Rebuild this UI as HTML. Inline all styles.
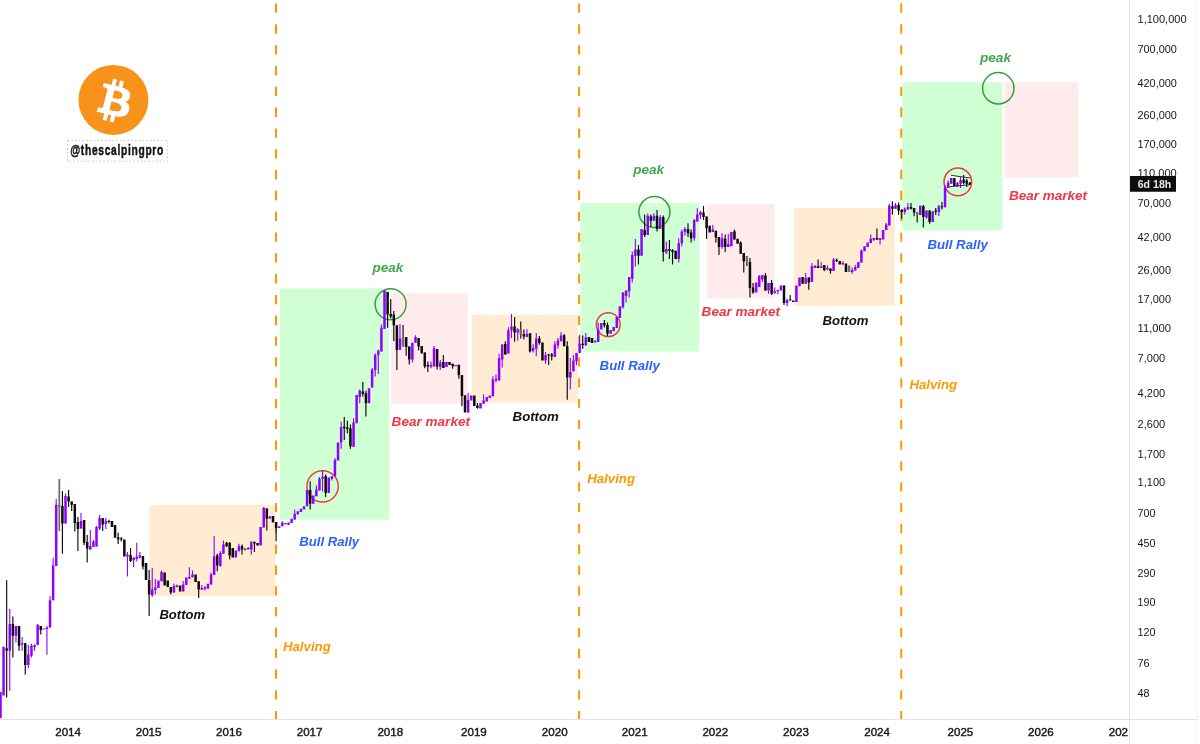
<!DOCTYPE html>
<html><head><meta charset="utf-8"><title>BTC cycles</title>
<style>
html,body{margin:0;padding:0;background:#fff;}
body{width:1200px;height:744px;overflow:hidden;position:relative;font-family:"Liberation Sans",sans-serif;}
svg{position:absolute;left:0;top:0;display:block;will-change:transform;}
text{font-family:"Liberation Sans",sans-serif;}
.lb{font-weight:bold;font-style:italic;font-size:13px;}
.ax{font-size:11.5px;fill:#131722;}
.xa{font-size:11.2px;fill:#131722;stroke:#131722;stroke-width:0.4px;}
</style></head><body>
<svg width="1200" height="744" viewBox="0 0 1200 744">
<defs><clipPath id="plot"><rect x="0" y="0" width="1129" height="719.2"/></clipPath><clipPath id="xclip"><rect x="0" y="720" width="1128" height="24"/></clipPath></defs>
<g clip-path="url(#plot)">
<rect x="149.4" y="505" width="125.8" height="91.2" fill="#FFECD2"/>
<rect x="279.9" y="288.4" width="109.2" height="231.3" fill="#D0FFD4"/>
<rect x="391.0" y="292.9" width="76.75" height="110.7" fill="#FFEBEB"/>
<rect x="471.7" y="315.0" width="106" height="87.5" fill="#FFECD2"/>
<rect x="580.4" y="203" width="118.6" height="148.5" fill="#D0FFD4"/>
<rect x="706.9" y="203.9" width="67.85" height="94.6" fill="#FFEBEB"/>
<rect x="793.9" y="208" width="100.85" height="97.9" fill="#FFECD2"/>
<rect x="902.3" y="82.1" width="100.2" height="148.2" fill="#D0FFD4"/>
<rect x="1004.4" y="82.1" width="73.7" height="95.4" fill="#FFEBEB"/>
<line x1="276.0" y1="3.55" x2="276.0" y2="720" stroke="#FF9800" stroke-width="2" stroke-dasharray="9.3 11.51"/>
<line x1="579.1" y1="3.55" x2="579.1" y2="720" stroke="#FF9800" stroke-width="2" stroke-dasharray="9.3 11.51"/>
<line x1="901.25" y1="3.55" x2="901.25" y2="720" stroke="#FF9800" stroke-width="2" stroke-dasharray="9.3 11.51"/>
<path d="M951 175.3L970 178L970 184.7L949.4 186.7Z" fill="#fff" fill-opacity="0.75"/>
<circle cx="322.6" cy="486.35" r="15.7" fill="none" stroke="#F23645" stroke-width="1.5"/>
<circle cx="390.6" cy="304.3" r="15.5" fill="none" stroke="#34A03C" stroke-width="1.5"/>
<circle cx="608.25" cy="324.7" r="11.9" fill="none" stroke="#F23645" stroke-width="1.5"/>
<circle cx="654.4" cy="212.1" r="15.5" fill="none" stroke="#34A03C" stroke-width="1.5"/>
<circle cx="957.8" cy="181.9" r="13.8" fill="none" stroke="#F23645" stroke-width="1.5"/>
<circle cx="998.3" cy="88.3" r="15.7" fill="none" stroke="#34A03C" stroke-width="1.5"/>
<path d="M9.77 609V690.75M15.96 626V642.6M22.16 637V650.7M28.35 645V668M31.45 644V657.6M34.55 644.5V650.7M37.64 624V645M46.93 626V654.7M50.03 596V627.6M53.13 557.75V600.25M56.22 499V566M65.51 493.5V523.5M81 513V528.5M90.29 530V549.6M93.39 540V547M96.49 526V546.5M99.58 515V530M105.78 518V529M127.45 552V576.5M133.65 557V567M136.75 542.75V561.5M139.84 552V558.4M152.23 568V597M155.33 578.75V594.4M161.52 570.6V581.25M173.91 583.5V592.5M177.01 584.4V587.5M183.2 581V591.5M189.39 567.25V578.75M192.49 570.6V577.25M201.78 585V590M204.88 586.25V590.6M211.07 572.5V584.4M214.17 536V575M220.36 551.25V566.25M223.46 540.6V553.75M238.95 543.75V551.25M245.14 548V550.6M251.33 541V554.4M263.72 507V527.5M282.31 521.25V526.25M294.69 509.4V519.4M316.37 485.6V496.25M319.47 477V490.6M322.57 470V491.4M331.86 476.25V480.6M334.95 458V476.25M341.15 421.75V448.75M353.54 418.25V446.9M359.73 389.5V403.25M372.12 368V387.6M375.21 353.25V376.4M378.31 349.5V373.9M381.41 324.6V351.4M399.99 324V349.75M412.38 342.75V362.6M415.48 335.25V342.75M430.96 361.4V368.25M434.06 346V366.4M440.25 360V370M468.12 393V412.5M483.61 394.4V403.75M492.9 376.25V396.25M496 374.4V382.5M499.09 353.75V380.6M502.19 344.4V367.5M508.39 327.2V353.4M511.48 314V338M517.68 328.2V340.6M526.97 329.2V337M533.16 344.3V352.4M536.26 332.9V356.25M545.55 352V363.75M554.84 341.25V357M557.94 338V348.75M561.03 332V341.25M570.33 358V389.4M573.42 355V371.25M576.52 353V365M579.62 335V353M585.81 333V345.6M598.2 322.5V342M622.98 292.5V308.75M626.07 290.6V302.5M629.17 277V297.5M632.27 251.4V282.5M635.36 239V266.4M647.75 213.5V235M653.94 213.25V220.75M660.14 215V229M666.33 241.4V254M678.72 238.25V262.6M681.82 229.5V246.4M684.91 227V235.75M694.21 218.9V240.75M697.3 208.25V221.4M700.4 210.75V218.9M712.79 225V232M722.08 233V248.75M728.27 233.75V247M759.24 275V287M762.34 275V281.9M768.53 283V293.75M774.73 287.5V293.75M777.83 289.4V294.4M787.12 298.75V306.25M805.7 273V283.75M811.89 263V282M821.18 262V268M827.38 265.6V270.6M833.57 258V271M842.86 261.25V264.4M852.15 267.5V273.75M855.25 265V270.6M861.44 249.4V262.5M870.73 234.4V243M880.03 238V244.4M886.22 223V230M889.32 203.75V225.6M895.51 203V208.75M904.8 207.5V214.4M907.9 203V210M926.48 210.6V218.75M938.87 205V216.25M945.06 185V207.25M948.16 180.6V188M957.45 181.9V186.9M960.55 177V188" stroke="#9000FF" stroke-width="1.1" fill="none"/>
<path d="M6.67 580.25V697.6M12.87 616.5V657.6M19.06 626V650.7M25.25 643.2V674.5M40.74 626V634.5M62.42 491V553.75M68.61 490V507M71.71 501.6V511M74.81 504V531.6M77.9 517V550.9M84.1 520V545.25M87.19 535V562.5M102.68 518V531M108.87 519.75V523.5M118.16 532.6V544M121.26 537V541.5M130.55 548V562M142.94 556V569.6M149.13 570V616M170.81 586.9V594.4M198.69 581.25V598M217.27 553.75V571.25M226.56 541.9V546.9M229.66 541.9V559.4M242.04 544.4V554.4M248.24 547.5V549.5M254.43 541.25V551.9M266.82 508.5V530.6M276.11 521.9V541.25M310.18 481.25V509.4M325.66 474.4V496.9M344.25 417V440M347.34 420.75V433.25M350.44 424.5V448.75M362.83 382V396.4M365.92 390.75V416.4M387.6 292V327.75M390.7 299V318.4M393.8 311V341M396.89 325.25V370M403.09 325V346.5M406.19 337V355.75M409.28 346.5V364.5M418.57 338V350.5M421.67 346V354M424.77 352.5V368.25M427.86 361.4V372M437.15 348.9V369.5M443.35 355V368M452.64 363.75V368.75M458.83 364.75V378.75M461.93 375V406.25M477.42 403V408.75M505.29 341.3V354.4M514.58 317V341.8M520.77 321.5V338.6M523.87 329.5V339.6M530.07 333.2V352.4M539.36 336V344.7M548.65 353.75V365M551.74 353V360.6M564.13 334V346.3M567.23 341.3V399.75M582.71 335.6V348.75M604.39 320V327.5M607.49 322.5V336M638.46 245V264.5M644.65 214.5V237M650.85 214.5V227M657.04 210V231.4M663.24 215.5V261.4M669.43 240V259M672.53 249V264.5M688.01 223.25V237M691.11 229.5V242.6M703.5 206V220M706.59 216.4V239M715.88 230.75V242.6M718.98 237V255M725.18 234.4V252M734.47 229.4V239.4M740.66 241.25V253.75M743.76 253V272.5M746.86 256V266M749.95 258V297.5M753.05 283V293.75M765.44 273V290.6M771.63 280V295M784.02 285.6V305M790.21 295V300.6M808.79 277.5V289.75M818.09 259.4V268M824.28 265V271.25M830.47 268.5V273.75M836.67 258.5V262M876.93 228.5V240M892.41 201.25V214.4M898.61 202.5V215M901.7 209.4V218.75M911 203V209.4M914.09 208V216.25M917.19 212V222.5M923.38 205V227.5M929.58 210.6V223.75M935.77 208V215M941.97 202V209.4M963.64 175V184.4M966.74 178.75V187M969.84 181.9V185" stroke="#0a0a0a" stroke-width="1.15" fill="none"/>
<path d="M0.48 692V718M3.57 646.75V695.5M9.77 624V650.7M15.96 626V635.7M22.16 643.2V644.5M28.35 654.5V665M31.45 645.7V655.7M34.55 645V647M37.64 625V645M43.84 628.4V629.6M46.93 627.6V629M50.03 600.25V627.6M53.13 565.25V600.25M56.22 504.75V566M65.51 496V523.5M81 521V528.5M90.29 545.9V549.6M93.39 541.5V547M96.49 527V546.5M99.58 518V528.5M105.78 521V524M127.45 554.6V556.5M133.65 557.75V560.25M136.75 556.5V559M139.84 555.25V557.75M152.23 589.4V595M155.33 587.5V590M158.42 580.6V588M161.52 572V581.25M173.91 586V592.5M177.01 585.6V586.9M183.2 584.4V591.5M186.3 577.5V585M189.39 577V578.75M192.49 574.4V577.25M201.78 588V589.4M204.88 587.5V589M207.98 583.75V588.75M211.07 574.4V584.4M214.17 556.25V575M220.36 553V566.25M223.46 544.4V553.75M235.85 550.6V557.5M238.95 546.25V551.25M245.14 548.75V550M251.33 542.25V549.4M260.63 526.9V545.6M263.72 508V527.5M269.92 516.25V518.75M279.21 526.25V528M282.31 522.5V526.25M288.5 522.5V525M291.6 518.75V523M294.69 513.75V519.4M297.79 511.25V514.4M300.89 508.75V512M303.98 506.25V509.4M307.08 490V506.25M313.27 495.6V503.75M316.37 489.4V496.25M319.47 478.75V490.6M322.57 476.8V478.8M328.76 477.5V493M331.86 476.25V478.75M334.95 460V476.25M338.05 442.5V460.6M341.15 427V442.5M353.54 422.6V446.9M356.63 395V423.25M359.73 390.75V397M369.02 388.25V403.25M372.12 369.5V387.6M375.21 355V370M378.31 350.75V355M381.41 327.75V351.4M384.51 290.25V329M399.99 338.4V349.75M412.38 342.75V359.5M415.48 337V342.75M430.96 365V366.75M434.06 348.25V366.4M440.25 362.6V367M446.45 362V367M455.74 365V366.25M468.12 400V412.5M471.22 395.6V400.6M480.51 403V408.5M483.61 400.6V403.75M486.71 396.9V401.5M489.8 395.6V398M492.9 379.4V396.25M496 378.75V380.6M499.09 358V380.6M502.19 344.4V359.4M508.39 330.2V353.4M511.48 326.5V330.5M517.68 329.2V332.5M526.97 333.9V337M533.16 348V350.7M536.26 338.6V348.7M545.55 355V360.6M554.84 344.4V357M557.94 340.6V345.6M561.03 335.6V341.25M570.33 372V377.5M573.42 360.6V371.25M576.52 353V361.25M579.62 343.75V353M585.81 337.5V345.6M595.1 340.6V342.5M598.2 329.4V342M601.3 323V329.4M610.59 330V333.75M613.68 327V331.25M616.78 317V328M619.88 306.25V318M622.98 292.5V307M626.07 290.6V296M629.17 277V291.25M632.27 255V278.75M635.36 249.5V255.75M641.56 229V255.75M647.75 215.75V235M653.94 215.75V220.75M660.14 217V229M666.33 249V252.6M678.72 243.25V259M681.82 231.4V243.25M684.91 229V232M694.21 220V238.25M697.3 214.5V221.4M700.4 212V215M712.79 229.5V232M722.08 238.25V247M728.27 244V247M731.37 232V246.25M756.15 282.5V292.5M759.24 276.25V287M762.34 275V279.4M768.53 283V290.6M774.73 291.25V293M777.83 290V291.25M780.92 285.6V290.6M787.12 300V303M796.41 285.6V302M799.5 277.5V286.25M805.7 278V283.75M811.89 266.25V282M814.99 265.6V268M821.18 266.25V268M827.38 268V269.4M833.57 259.4V271M842.86 263V264.4M852.15 270V272M855.25 267V270.6M858.35 262V268M861.44 250.6V262.5M864.54 246.25V251.25M867.64 242.5V247M870.73 238.75V243M873.83 238V240.6M880.03 238V240M883.12 230V239.4M886.22 224.4V230M889.32 205.6V225.6M895.51 205V208.75M904.8 208.75V212M907.9 207V209.4M920.29 205.6V215M926.48 210.6V217.5M932.67 211.25V222M938.87 206.25V212M945.06 187V207.25M948.16 182.5V188M951.26 178V183.75M957.45 183V186.25M960.55 180V183.75" stroke="#9000FF" stroke-width="2.5" fill="none"/>
<path d="M6.67 648.2V650.7M12.87 624V635.7M19.06 626V645.7M25.25 643.2V665M40.74 626V630M59.32 505.4V506.6M62.42 506V523.5M68.61 496.6V501.6M71.71 501.6V504.75M74.81 504V523M77.9 522V529M84.1 520V542.75M87.19 542V548.4M102.68 518V524.5M108.87 520.9V522.1M111.97 521V527M115.07 525V537.75M118.16 537.3V539.4M121.26 538.4V539.6M124.36 539.6V556.5M130.55 555V561M142.94 556V566.5M146.04 563V580M149.13 580V594.4M164.62 572.5V585.6M167.72 580.6V586.9M170.81 586.9V592.5M180.1 585.6V591.5M195.59 574.4V581.9M198.69 581.25V589.4M217.27 555.6V565.6M226.56 542.5V546.25M229.66 543V555.6M232.75 548V557.5M242.04 546.25V549.4M248.24 547.9V549.1M254.43 541.9V543.5M257.53 543V545.6M266.82 508.5V518.75M273.01 516V522.5M276.11 521.9V528M285.4 523.15V524.35M310.18 490V503.75M325.66 476.25V493M344.25 426.75V428.25M347.34 427.6V428.9M350.44 428.25V446.25M362.83 391.4V393.9M365.92 393.25V403.25M387.6 292V314.6M390.7 314V316.5M393.8 314.6V325.25M396.89 325.25V350M406.19 337V347M409.28 346.5V359.5M418.57 338V346.5M421.67 346V353M424.77 352.5V366.5M427.86 365V366.4M437.15 348.9V366.4M443.35 362V368M449.54 362V365M452.64 363.75V366.25M458.83 364.75V375M461.93 375V396M465.03 395.25V412.5M474.32 395.6V406M477.42 405.6V408M505.29 344V354.4M514.58 326.5V332.5M523.87 333.9V336.6M530.07 333.2V351.4M539.36 338.6V343M542.45 342.5V360.6M548.65 354.4V355.6M551.74 354.4V356.25M564.13 335.3V346.3M567.23 346.3V377.5M582.71 343.75V345M588.91 337V342M592 338V343M604.39 323V325.6M607.49 325V333.75M638.46 249.5V255.75M644.65 230V235M650.85 216.4V220.75M657.04 215.75V229M663.24 217V252M669.43 249V250.75M672.53 250V252M675.62 250.75V259M688.01 229V233.25M691.11 232.6V238.25M703.5 212.6V217M706.59 216.4V228.25M709.69 225.75V232.6M715.88 230.75V237.6M718.98 237V247M725.18 238.75V247M734.47 231.25V239.4M737.56 238.75V243.75M740.66 242.5V253.75M743.76 253V261.25M749.95 262V288M753.05 287.5V292.5M765.44 275.6V290.6M771.63 283V293.75M784.02 285.6V303M790.21 299.4V300.6M793.31 300.6V302M802.6 277V283.75M808.79 277.5V282.5M818.09 266.25V268M824.28 265V270M830.47 268.5V271M836.67 259.75V261M839.76 261V264.4M845.96 263.5V272M876.93 238V239.4M892.41 206.25V208.75M898.61 205V210.6M901.7 209.4V212M911 207V208.75M914.09 208V212.5M923.38 206.25V217M929.58 210.6V222M935.77 210.5V211.7M941.97 206.15V207.35M954.35 178V186.25M963.64 179.4V183M966.74 180.6V183.75M969.84 182.5V184.4" stroke="#0c0c0c" stroke-width="2.5" fill="none"/>
<path d="M403.09 338.4V346.5M520.77 329.2V334.2M746.86 256V262M849.06 265.6V272M917.19 212V215" stroke="#707070" stroke-width="2.5" fill="none"/>
<path d="M59.32 479V531" stroke="#6a6a6a" stroke-width="1.7" fill="none"/>
<path d="M951 175.3L970 178M949.4 186.7L970 184.7" stroke="#1a1a1a" stroke-width="0.9" fill="none"/>
<text class="lb" x="159.4" y="619.2" fill="#131313" textLength="45.8" lengthAdjust="spacingAndGlyphs">Bottom</text>
<text class="lb" x="299.2" y="545.7" fill="#2962FF" textLength="60.0" lengthAdjust="spacingAndGlyphs">Bull Rally</text>
<text class="lb" x="282.9" y="651.2" fill="#FF9800" textLength="47.9" lengthAdjust="spacingAndGlyphs">Halving</text>
<text class="lb" x="372.4" y="272.2" fill="#43A84A" textLength="30.8" lengthAdjust="spacingAndGlyphs">peak</text>
<text class="lb" x="391.6" y="426.2" fill="#F23645" textLength="78.4" lengthAdjust="spacingAndGlyphs">Bear market</text>
<text class="lb" x="512.6" y="420.5" fill="#131313" textLength="46.2" lengthAdjust="spacingAndGlyphs">Bottom</text>
<text class="lb" x="599.6" y="370.3" fill="#2962FF" textLength="60.2" lengthAdjust="spacingAndGlyphs">Bull Rally</text>
<text class="lb" x="587.2" y="482.8" fill="#FF9800" textLength="47.8" lengthAdjust="spacingAndGlyphs">Halving</text>
<text class="lb" x="633.2" y="173.9" fill="#43A84A" textLength="30.9" lengthAdjust="spacingAndGlyphs">peak</text>
<text class="lb" x="701.6" y="315.5" fill="#F23645" textLength="78.4" lengthAdjust="spacingAndGlyphs">Bear market</text>
<text class="lb" x="822.4" y="325.0" fill="#131313" textLength="46.1" lengthAdjust="spacingAndGlyphs">Bottom</text>
<text class="lb" x="927.4" y="248.5" fill="#2962FF" textLength="60.4" lengthAdjust="spacingAndGlyphs">Bull Rally</text>
<text class="lb" x="909.4" y="389.3" fill="#FF9800" textLength="47.8" lengthAdjust="spacingAndGlyphs">Halving</text>
<text class="lb" x="979.9" y="62.2" fill="#43A84A" textLength="31.1" lengthAdjust="spacingAndGlyphs">peak</text>
<text class="lb" x="1008.9" y="200.2" fill="#F23645" textLength="78.1" lengthAdjust="spacingAndGlyphs">Bear market</text>
</g>
<circle cx="113.4" cy="99.9" r="35" fill="#F7931A"/>
<g transform="translate(79.4 66.7) scale(1.1 1.078)"><path fill="#fff" d="m46.103,27.444c0.637-4.258-2.605-6.547-7.038-8.074l1.438-5.768-3.511-0.875-1.4,5.616c-0.923-0.23-1.871-0.447-2.813-0.662l1.41-5.653-3.509-0.875-1.439,5.766c-0.764-0.174-1.514-0.346-2.242-0.527l0.004-0.018-4.842-1.209-0.934,3.75s2.605,0.597 2.55,0.634c1.422,0.355 1.679,1.296 1.636,2.042l-1.638,6.571c0.098,0.025 0.225,0.061 0.365,0.117-0.117-0.029-0.242-0.061-0.371-0.092l-2.296,9.205c-0.174,0.432-0.615,1.08-1.609,0.834 0.035,0.051-2.552-0.637-2.552-0.637l-1.743,4.019 4.569,1.139c0.85,0.213 1.683,0.436 2.503,0.646l-1.453,5.834 3.507,0.875 1.439-5.772c0.958,0.26 1.888,0.5 2.798,0.726l-1.434,5.745 3.511,0.875 1.453-5.823c5.987,1.133 10.489,0.676 12.384-4.739 1.527-4.36-0.076-6.875-3.226-8.515 2.294-0.529 4.022-2.038 4.483-5.155zm-8.022,11.249c-1.085,4.36-8.426,2.003-10.806,1.412l1.928-7.729c2.38,0.594 10.012,1.77 8.878,6.317zm1.086-11.312c-0.99,3.966-7.1,1.951-9.082,1.457l1.748-7.01c1.982,0.494 8.365,1.416 7.334,5.553z"/></g>
<rect x="67.5" y="140.6" width="100.2" height="20.6" fill="none" stroke="#c4c4c4" stroke-width="1" stroke-dasharray="1.5 2.25"/>
<text transform="translate(70.2 154.5) scale(0.665 1)" font-size="15.4" font-weight="bold" fill="#131313" stroke="#131313" stroke-width="0.5" letter-spacing="1.05">@thescalpingpro</text>
<line x1="1129.6" y1="0" x2="1129.6" y2="744" stroke="#E0E3EB" stroke-width="1"/>
<line x1="1197.4" y1="0" x2="1197.4" y2="744" stroke="#F3F4F7" stroke-width="1"/>
<line x1="0" y1="719.5" x2="1197.5" y2="719.5" stroke="#E0E3EB" stroke-width="1"/>
<text class="ax" x="1137.5" y="23.00" textLength="49.1" lengthAdjust="spacingAndGlyphs">1,100,000</text>
<text class="ax" x="1137.5" y="53.40" textLength="39.3" lengthAdjust="spacingAndGlyphs">700,000</text>
<text class="ax" x="1137.5" y="87.20" textLength="39.3" lengthAdjust="spacingAndGlyphs">420,000</text>
<text class="ax" x="1137.5" y="119.40" textLength="39.3" lengthAdjust="spacingAndGlyphs">260,000</text>
<text class="ax" x="1137.5" y="147.90" textLength="39.3" lengthAdjust="spacingAndGlyphs">170,000</text>
<text class="ax" x="1137.5" y="177.10" textLength="39.3" lengthAdjust="spacingAndGlyphs">110,000</text>
<text class="ax" x="1137.5" y="207.20" textLength="33.5" lengthAdjust="spacingAndGlyphs">70,000</text>
<text class="ax" x="1137.5" y="241.20" textLength="33.5" lengthAdjust="spacingAndGlyphs">42,000</text>
<text class="ax" x="1137.5" y="273.90" textLength="33.5" lengthAdjust="spacingAndGlyphs">26,000</text>
<text class="ax" x="1137.5" y="303.20" textLength="33.5" lengthAdjust="spacingAndGlyphs">17,000</text>
<text class="ax" x="1137.5" y="332.40" textLength="33.5" lengthAdjust="spacingAndGlyphs">11,000</text>
<text class="ax" x="1137.5" y="362.40" textLength="27.7" lengthAdjust="spacingAndGlyphs">7,000</text>
<text class="ax" x="1137.5" y="396.70" textLength="27.7" lengthAdjust="spacingAndGlyphs">4,200</text>
<text class="ax" x="1137.5" y="428.40" textLength="27.7" lengthAdjust="spacingAndGlyphs">2,600</text>
<text class="ax" x="1137.5" y="457.50" textLength="27.7" lengthAdjust="spacingAndGlyphs">1,700</text>
<text class="ax" x="1137.5" y="486.40" textLength="27.7" lengthAdjust="spacingAndGlyphs">1,100</text>
<text class="ax" x="1137.5" y="517.40" textLength="17.9" lengthAdjust="spacingAndGlyphs">700</text>
<text class="ax" x="1137.5" y="546.50" textLength="17.9" lengthAdjust="spacingAndGlyphs">450</text>
<text class="ax" x="1137.5" y="577.00" textLength="17.9" lengthAdjust="spacingAndGlyphs">290</text>
<text class="ax" x="1137.5" y="605.70" textLength="17.9" lengthAdjust="spacingAndGlyphs">190</text>
<text class="ax" x="1137.5" y="635.90" textLength="17.9" lengthAdjust="spacingAndGlyphs">120</text>
<text class="ax" x="1137.5" y="667.20" textLength="12.1" lengthAdjust="spacingAndGlyphs">76</text>
<text class="ax" x="1137.5" y="697.20" textLength="12.1" lengthAdjust="spacingAndGlyphs">48</text>
<rect x="1130" y="176" width="46" height="15.75" fill="#0c0c0c"/>
<text x="1137.7" y="188" font-size="11.5" font-weight="bold" fill="#e8e8e8" textLength="33.6" lengthAdjust="spacingAndGlyphs">6d 18h</text>
<g clip-path="url(#xclip)">
<text class="xa" x="55.2" y="736.4" textLength="25.8" lengthAdjust="spacingAndGlyphs">2014</text>
<text class="xa" x="135.7" y="736.4" textLength="25.8" lengthAdjust="spacingAndGlyphs">2015</text>
<text class="xa" x="216.1" y="736.4" textLength="25.8" lengthAdjust="spacingAndGlyphs">2016</text>
<text class="xa" x="296.7" y="736.4" textLength="25.8" lengthAdjust="spacingAndGlyphs">2017</text>
<text class="xa" x="377.4" y="736.4" textLength="25.8" lengthAdjust="spacingAndGlyphs">2018</text>
<text class="xa" x="461.0" y="736.4" textLength="25.8" lengthAdjust="spacingAndGlyphs">2019</text>
<text class="xa" x="541.8" y="736.4" textLength="25.8" lengthAdjust="spacingAndGlyphs">2020</text>
<text class="xa" x="621.8" y="736.4" textLength="25.8" lengthAdjust="spacingAndGlyphs">2021</text>
<text class="xa" x="702.4" y="736.4" textLength="25.8" lengthAdjust="spacingAndGlyphs">2022</text>
<text class="xa" x="783.1" y="736.4" textLength="25.8" lengthAdjust="spacingAndGlyphs">2023</text>
<text class="xa" x="864.2" y="736.4" textLength="25.8" lengthAdjust="spacingAndGlyphs">2024</text>
<text class="xa" x="947.5" y="736.4" textLength="25.8" lengthAdjust="spacingAndGlyphs">2025</text>
<text class="xa" x="1028.0" y="736.4" textLength="25.8" lengthAdjust="spacingAndGlyphs">2026</text>
<text class="xa" x="1108.7" y="736.4" textLength="25.8" lengthAdjust="spacingAndGlyphs">2027</text>
</g>
</svg>
</body></html>
